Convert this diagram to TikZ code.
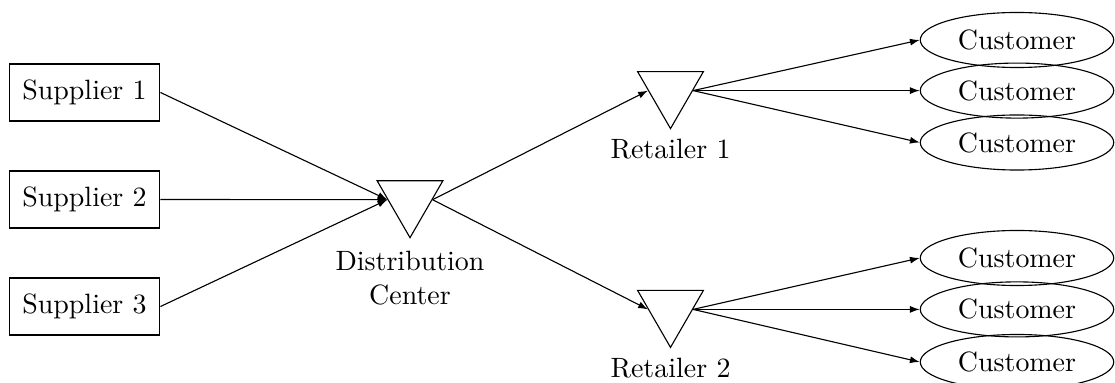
\documentclass[tikz,border=0pt]{standalone}
\usetikzlibrary{shapes.geometric,arrows.meta,positioning}
\begin{document}
\begin{tikzpicture}[x=0.358pt,y=-0.358pt,
  supplier/.style={draw,rectangle,minimum width=54pt,minimum height=20.4pt,inner sep=0pt},
  hub/.style={draw,regular polygon,regular polygon sides=3,shape border rotate=180,
    minimum size=27.2pt,inner sep=0pt},
  customer/.style={draw,ellipse},
  flow/.style={-{Latex[length=3.5pt,width=2.5pt]}}]
  \useasboundingbox (0,0) rectangle (1115,383);

  % suppliers
  \node[supplier] (s1) at (84.5,92.5) {Supplier 1};
  \node[supplier] (s2) at (84.5,199.5) {Supplier 2};
  \node[supplier] (s3) at (84.5,306.5) {Supplier 3};

  % distribution center and retailers
  \node[hub] (dc) at (410,199.7) {};
  \node[below=1pt of dc,align=center] (dclab) {Distribution\\Center};
  \node[hub] (r1) at (670.5,90.6) {};
  \node[below=0pt of r1] (r1lab) {Retailer 1};
  \node[hub] (r2) at (670.5,309.4) {};
  \node[below=0pt of r2] (r2lab) {Retailer 2};

  % customers
  \node[customer] (c1) at (1017,40) {Customer};
  \node[customer] (c2) at (1017,90.6) {Customer};
  \node[customer] (c3) at (1017,142.5) {Customer};
  \node[customer] (c4) at (1017,258) {Customer};
  \node[customer] (c5) at (1017,309.4) {Customer};
  \node[customer] (c6) at (1017,362) {Customer};

  % flows
  \draw[flow] (s1.east) -- (dc.west);
  \draw[flow] (s2.east) -- (dc.west);
  \draw[flow] (s3.east) -- (dc.west);
  \draw[flow] (dc.east) -- (r1.west);
  \draw[flow] (dc.east) -- (r2.west);
  \draw[flow] (r1.east) -- (c1.west);
  \draw[flow] (r1.east) -- (c2.west);
  \draw[flow] (r1.east) -- (c3.west);
  \draw[flow] (r2.east) -- (c4.west);
  \draw[flow] (r2.east) -- (c5.west);
  \draw[flow] (r2.east) -- (c6.west);
\end{tikzpicture}
\end{document}
